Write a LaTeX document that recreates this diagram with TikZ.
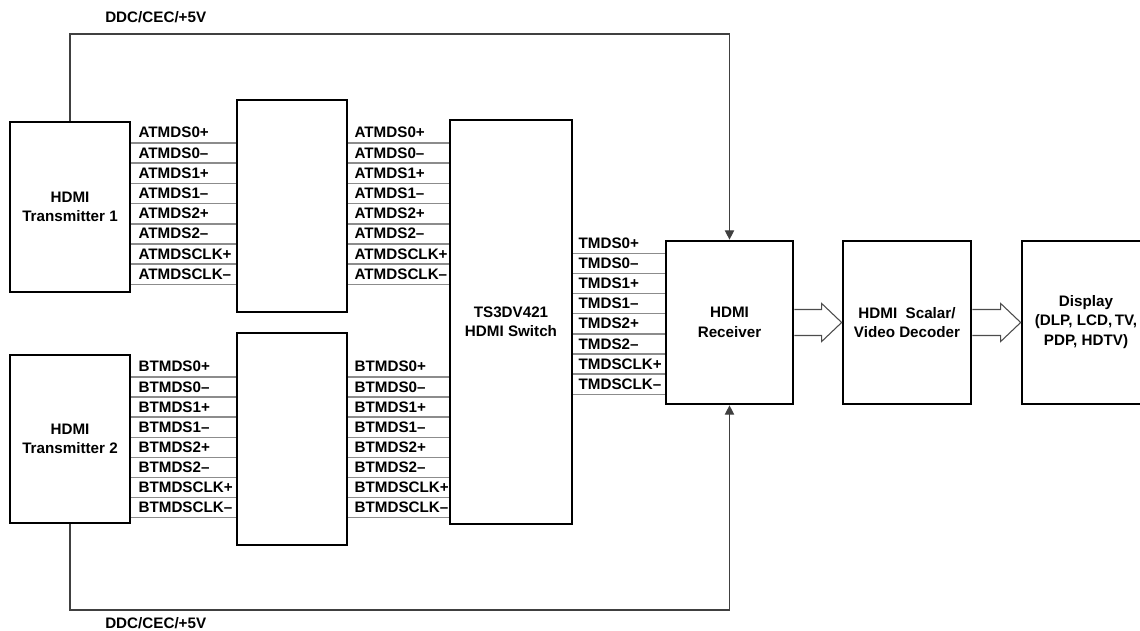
\documentclass[tikz,border=0pt]{standalone}
\usepackage{fontspec}
\setmainfont{Liberation Sans}
\usetikzlibrary{arrows.meta,calc,fit}
\begin{document}
\begin{tikzpicture}[x=0.75pt,y=-0.75pt,
 every node/.style={font=\fontsize{11.4}{14.5}\selectfont\bfseries},
 blk/.style={draw=black, line width=2pt, inner sep=0pt},
 sig/.style={draw=black!45, line width=1.1pt},
 ddc/.style={draw=black!75, line width=0.9pt},
 harrow/.style={draw=black!70, line width=0.8pt, line join=miter},
 lbl/.style={anchor=base west, inner sep=0pt},
 txt/.style={align=center, inner sep=0pt},
 tip/.style={-{Triangle[length=7pt,width=7pt]}}]
\useasboundingbox (0,0) rectangle (1140,631);
\begin{scope}
\clip (0,0) rectangle (1140,631);
% blocks
\node[blk, fit={(10,122)(130,292)}] (tx1) {};
\node[blk, fit={(10,355)(130,523)}] (tx2) {};
\node[blk, fit={(237,100)(347,312)}] (ba) {};
\node[blk, fit={(237,333)(347,545)}] (bb) {};
\node[blk, fit={(450,120)(572,524)}] (sw) {};
\node[blk, fit={(666,241)(793,404)}] (rx) {};
\node[blk, fit={(843,241)(971,404)}] (sc) {};
\node[blk, fit={(1022,241)(1160,404)}] (dp) {};
% block texts
\node[txt] (tx1t) at (tx1.center) {HDMI\\Transmitter 1};
\node[txt] (tx2t) at (tx2.center) {HDMI\\Transmitter 2};
\node[txt] (swt) at (sw.center) {TS3DV421\\HDMI Switch};
\node[txt] (rxt) at (rx.center) {HDMI\\Receiver};
\node[txt] (sct) at (sc.center) {HDMI\ \ Scalar/\\Video Decoder};
\node[txt] (dpt) at (1086,322) {Display\\(DLP, LCD,\,TV,\\PDP, HDTV)};
% signal lines
\foreach \i/\s in {0/0+,1/0–,2/1+,3/1–,4/2+,5/2–,6/CLK+,7/CLK–}{
  \pgfmathsetmacro\ya{143+20.2*\i}
  \pgfmathsetmacro\yb{377+20.1*\i}
  \pgfmathsetmacro\yt{253.3+20.15*\i}
  \coordinate (ya\i) at (0,\ya);
  \coordinate (yb\i) at (0,\yb);
  \coordinate (yt\i) at (0,\yt);
  \draw[sig] (tx1.east |- ya\i) -- (ba.west |- ya\i);
  \draw[sig] (ba.east |- ya\i) -- (sw.west |- ya\i);
  \draw[sig] (tx2.east |- yb\i) -- (bb.west |- yb\i);
  \draw[sig] (bb.east |- yb\i) -- (sw.west |- yb\i);
  \draw[sig] (sw.east |- yt\i) -- (rx.west |- yt\i);
  \node[lbl] (la1\i) at ($(tx1.east |- ya\i)+(7,-5)$) {ATMDS\s};
  \node[lbl] (la2\i) at ($(ba.east |- ya\i)+(6,-5)$) {ATMDS\s};
  \node[lbl] (lb1\i) at ($(tx2.east |- yb\i)+(7,-5)$) {BTMDS\s};
  \node[lbl] (lb2\i) at ($(bb.east |- yb\i)+(6,-5)$) {BTMDS\s};
  \node[lbl] (lt\i) at ($(sw.east |- yt\i)+(5,-5)$) {TMDS\s};
}
% DDC/CEC/+5V loops
\coordinate (t1) at (70,34);
\coordinate (b1) at (70,610);
\draw[ddc,tip] (tx1.north) -- (tx1.north |- t1) -- (rx.north |- t1) -- (rx.north);
\draw[ddc,tip] (tx2.south) -- (tx2.south |- b1) -- (rx.south |- b1) -- (rx.south);
\node[lbl] (ddctop) at (105,23) {DDC/CEC/+5V};
\node[lbl] (ddcbot) at (105,628) {DDC/CEC/+5V};
% hollow arrows
\draw[harrow] ($(rx.east)+(0,-13)$) -- ($(sc.west)+(-20,-13)$) -- ($(sc.west)+(-20,-19)$)
  -- (sc.west) -- ($(sc.west)+(-20,19)$) -- ($(sc.west)+(-20,13)$) -- ($(rx.east)+(0,13)$);
\draw[harrow] ($(sc.east)+(0,-13)$) -- ($(dp.west)+(-20,-13)$) -- ($(dp.west)+(-20,-19)$)
  -- (dp.west) -- ($(dp.west)+(-20,19)$) -- ($(dp.west)+(-20,13)$) -- ($(sc.east)+(0,13)$);
\end{scope}
\end{tikzpicture}
\end{document}
